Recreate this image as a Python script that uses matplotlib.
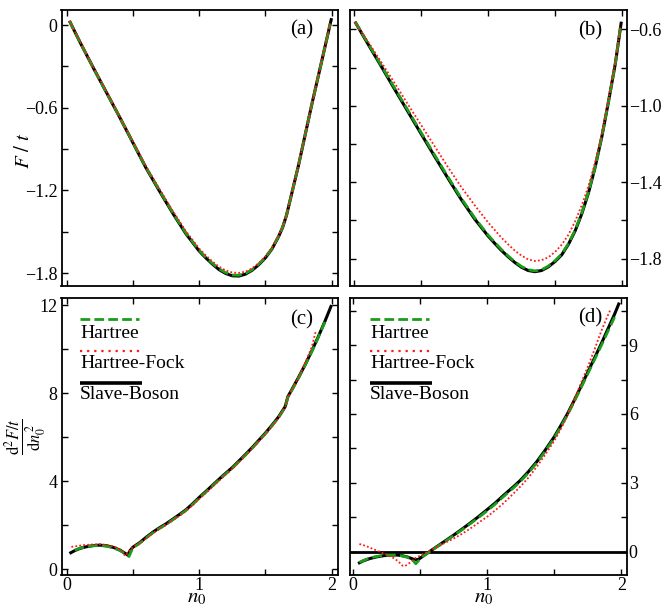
import matplotlib
matplotlib.use("Agg")
import matplotlib.pyplot as plt

plt.rcParams['font.family'] = ['Liberation Serif', 'DejaVu Serif']
plt.rcParams['mathtext.fontset'] = 'stix'

# panel (a): F/t
a_sb_n = [0.02, 0.1, 0.2, 0.3, 0.4, 0.5, 0.6, 0.7, 0.8, 0.9, 1.0, 1.05, 1.1, 1.15, 1.2, 1.25, 1.3, 1.35, 1.4, 1.45, 1.5, 1.55, 1.6, 1.63, 1.66, 1.7, 1.75, 1.8, 1.85, 1.9, 1.95, 2.0]
a_sb_F = [0.03, -0.125, -0.31, -0.49, -0.67, -0.855, -1.04, -1.205, -1.365, -1.515, -1.64, -1.69, -1.735, -1.775, -1.803, -1.82, -1.822, -1.808, -1.78, -1.74, -1.69, -1.625, -1.535, -1.47, -1.38, -1.22, -1.02, -0.80, -0.58, -0.37, -0.16, 0.05]
a_h_n = [0.02, 0.1, 0.2, 0.3, 0.4, 0.5, 0.6, 0.7, 0.8, 0.9, 1.0, 1.05, 1.1, 1.15, 1.2, 1.25, 1.3, 1.35, 1.4, 1.45, 1.5, 1.55, 1.6, 1.63, 1.66, 1.7, 1.75, 1.8, 1.85, 1.9, 1.95, 1.99]
a_h_F = [0.03, -0.125, -0.31, -0.49, -0.67, -0.853, -1.037, -1.2, -1.36, -1.51, -1.635, -1.685, -1.73, -1.769, -1.797, -1.814, -1.816, -1.803, -1.776, -1.736, -1.687, -1.622, -1.533, -1.468, -1.378, -1.22, -1.02, -0.80, -0.58, -0.37, -0.16, 0.01]
a_hf_n = [0.02, 0.1, 0.2, 0.3, 0.4, 0.5, 0.6, 0.7, 0.8, 0.9, 1.0, 1.05, 1.1, 1.15, 1.2, 1.25, 1.3, 1.35, 1.4, 1.45, 1.5, 1.55, 1.6, 1.63, 1.66, 1.7, 1.75, 1.8, 1.85, 1.9, 1.95, 1.99]
a_hf_F = [0.03, -0.122, -0.305, -0.485, -0.664, -0.846, -1.028, -1.19, -1.348, -1.497, -1.622, -1.672, -1.716, -1.754, -1.781, -1.796, -1.799, -1.79, -1.766, -1.728, -1.68, -1.615, -1.528, -1.465, -1.376, -1.22, -1.02, -0.80, -0.58, -0.37, -0.16, 0.01]

# panel (b): F/t
b_sb_n = [0.007, 0.1, 0.2, 0.3, 0.4, 0.5, 0.6, 0.7, 0.8, 0.9, 1.0, 1.05, 1.1, 1.15, 1.2, 1.25, 1.3, 1.35, 1.4, 1.45, 1.5, 1.55, 1.6, 1.65, 1.7, 1.75, 1.8, 1.85, 1.9, 1.95, 1.995]
b_sb_F = [-0.56, -0.672, -0.79, -0.91, -1.028, -1.146, -1.263, -1.378, -1.49, -1.592, -1.681, -1.72, -1.757, -1.79, -1.82, -1.845, -1.862, -1.868, -1.862, -1.843, -1.815, -1.78, -1.725, -1.655, -1.565, -1.455, -1.32, -1.16, -0.975, -0.78, -0.56]
b_h_n = [0.007, 0.1, 0.2, 0.3, 0.4, 0.5, 0.6, 0.7, 0.8, 0.9, 1.0, 1.05, 1.1, 1.15, 1.2, 1.25, 1.3, 1.35, 1.4, 1.45, 1.5, 1.55, 1.6, 1.65, 1.7, 1.75, 1.8, 1.85, 1.9, 1.95, 1.99]
b_h_F = [-0.56, -0.668, -0.785, -0.904, -1.021, -1.139, -1.256, -1.371, -1.484, -1.586, -1.676, -1.715, -1.752, -1.786, -1.816, -1.841, -1.858, -1.864, -1.858, -1.839, -1.811, -1.776, -1.721, -1.651, -1.561, -1.452, -1.318, -1.158, -0.975, -0.78, -0.58]
b_hf_n = [0.007, 0.1, 0.2, 0.3, 0.4, 0.5, 0.6, 0.7, 0.8, 0.9, 1.0, 1.05, 1.1, 1.15, 1.2, 1.25, 1.3, 1.35, 1.4, 1.45, 1.5, 1.55, 1.6, 1.65, 1.7, 1.75, 1.8, 1.85, 1.9, 1.95, 1.99]
b_hf_F = [-0.56, -0.66, -0.768, -0.878, -0.99, -1.10, -1.21, -1.32, -1.425, -1.52, -1.61, -1.65, -1.69, -1.725, -1.758, -1.784, -1.804, -1.812, -1.808, -1.793, -1.765, -1.727, -1.675, -1.605, -1.52, -1.42, -1.295, -1.145, -0.965, -0.77, -0.58]

# panel (c): d2F/dn0^2
c_sb_n = [0.02, 0.06, 0.1, 0.15, 0.2, 0.25, 0.3, 0.35, 0.4, 0.44, 0.46, 0.48, 0.5, 0.55, 0.6, 0.65, 0.7, 0.75, 0.8, 0.85, 0.9, 0.95, 1.0, 1.05, 1.1, 1.15, 1.2, 1.25, 1.3, 1.35, 1.4, 1.45, 1.5, 1.55, 1.6, 1.65, 1.67, 1.7, 1.75, 1.8, 1.85, 1.9, 1.95, 2.0]
c_sb_v = [0.71, 0.84, 0.94, 1.02, 1.07, 1.09, 1.06, 0.99, 0.87, 0.72, 0.64, 0.86, 1.0, 1.2, 1.45, 1.68, 1.88, 2.06, 2.27, 2.48, 2.7, 2.97, 3.26, 3.53, 3.81, 4.09, 4.36, 4.62, 4.92, 5.22, 5.53, 5.86, 6.19, 6.55, 6.93, 7.4, 7.85, 8.17, 8.72, 9.3, 9.92, 10.58, 11.28, 12.02]
c_h_n = [0.06, 0.1, 0.15, 0.2, 0.25, 0.3, 0.35, 0.4, 0.44, 0.47, 0.49, 0.5, 0.55, 0.6, 0.65, 0.7, 0.75, 0.8, 0.85, 0.9, 0.95, 1.0, 1.05, 1.1, 1.15, 1.2, 1.25, 1.3, 1.35, 1.4, 1.45, 1.5, 1.55, 1.6, 1.65, 1.67, 1.7, 1.75, 1.8, 1.85, 1.9, 1.95]
c_h_v = [0.86, 0.95, 1.02, 1.06, 1.07, 1.04, 0.97, 0.85, 0.7, 0.57, 0.85, 0.97, 1.17, 1.42, 1.65, 1.85, 2.03, 2.24, 2.45, 2.67, 2.94, 3.23, 3.5, 3.78, 4.06, 4.33, 4.59, 4.89, 5.19, 5.5, 5.83, 6.16, 6.52, 6.9, 7.37, 7.83, 8.14, 8.69, 9.27, 9.89, 10.55, 11.25]
c_hf_n = [0.035, 0.08, 0.125, 0.2, 0.25, 0.3, 0.355, 0.39, 0.42, 0.44, 0.46, 0.48, 0.5, 0.55, 0.6, 0.65, 0.7, 0.75, 0.8, 0.85, 0.9, 0.95, 1.0, 1.05, 1.1, 1.15, 1.2, 1.25, 1.3, 1.35, 1.4, 1.45, 1.5, 1.55, 1.6, 1.65, 1.67, 1.7, 1.75, 1.8, 1.85, 1.88]
c_hf_v = [1.01, 1.05, 1.09, 1.12, 1.13, 1.1, 1.03, 0.93, 0.78, 0.6, 0.72, 0.9, 0.99, 1.17, 1.4, 1.63, 1.83, 2.01, 2.22, 2.42, 2.64, 2.9, 3.19, 3.46, 3.74, 4.02, 4.3, 4.57, 4.87, 5.17, 5.48, 5.81, 6.14, 6.5, 6.88, 7.35, 7.82, 8.15, 8.72, 9.36, 10.1, 10.8]

# panel (d): d2F/dn0^2
d_sb_n = [0.04, 0.08, 0.13, 0.18, 0.23, 0.28, 0.33, 0.37, 0.41, 0.46, 0.49, 0.53, 0.57, 0.62, 0.68, 0.75, 0.81, 0.87, 0.93, 1.0, 1.06, 1.12, 1.2, 1.25, 1.31, 1.37, 1.43, 1.5, 1.55, 1.6, 1.65, 1.7, 1.75, 1.8, 1.85, 1.9, 1.95, 1.985]
d_sb_v = [-0.51, -0.39, -0.29, -0.22, -0.17, -0.145, -0.14, -0.17, -0.23, -0.34, -0.33, -0.16, 0.0, 0.2, 0.44, 0.72, 0.97, 1.23, 1.5, 1.83, 2.12, 2.44, 2.85, 3.12, 3.5, 3.92, 4.4, 5.0, 5.5, 6.02, 6.6, 7.2, 7.82, 8.43, 9.05, 9.7, 10.35, 10.85]
d_h_n = [0.05, 0.1, 0.15, 0.2, 0.25, 0.3, 0.35, 0.4, 0.44, 0.47, 0.5, 0.53, 0.57, 0.62, 0.68, 0.75, 0.81, 0.87, 0.93, 1.0, 1.06, 1.12, 1.2, 1.25, 1.31, 1.37, 1.43, 1.5, 1.55, 1.6, 1.65, 1.7, 1.75, 1.8, 1.85, 1.9, 1.95]
d_h_v = [-0.46, -0.33, -0.24, -0.18, -0.15, -0.14, -0.16, -0.22, -0.32, -0.52, -0.33, -0.17, -0.01, 0.19, 0.42, 0.7, 0.94, 1.2, 1.46, 1.78, 2.07, 2.39, 2.8, 3.07, 3.45, 3.87, 4.35, 4.95, 5.45, 5.97, 6.55, 7.14, 7.75, 8.36, 8.97, 9.6, 10.22]
d_hf_n = [0.05, 0.1, 0.14, 0.19, 0.24, 0.28, 0.31, 0.34, 0.37, 0.39, 0.42, 0.46, 0.51, 0.56, 0.62, 0.68, 0.75, 0.81, 0.87, 0.93, 1.0, 1.06, 1.12, 1.18, 1.25, 1.31, 1.37, 1.43, 1.5, 1.55, 1.6, 1.65, 1.7, 1.75, 1.8, 1.85, 1.9, 1.92]
d_hf_v = [0.34, 0.25, 0.15, 0.03, -0.1, -0.2, -0.29, -0.42, -0.6, -0.62, -0.5, -0.3, -0.14, 0.0, 0.18, 0.37, 0.57, 0.77, 0.99, 1.24, 1.52, 1.8, 2.1, 2.44, 2.85, 3.24, 3.7, 4.2, 4.82, 5.35, 5.95, 6.62, 7.35, 8.05, 8.8, 9.6, 10.3, 10.55]

labels = ['Hartree', 'Hartree-Fock', 'Slave-Boson']
GREEN = '#1a9e1a'
RED = '#ff1a1a'

fig = plt.figure(figsize=(6.63, 6.08), dpi=100)
W, H = 663, 608


def box(l, r, t, b):
    return [l / W, (H - b) / H, (r - l) / W, (b - t) / H]


ax_a = fig.add_axes(box(61.5, 337.5, 10, 286))
ax_b = fig.add_axes(box(350, 626.7, 10, 286))
ax_c = fig.add_axes(box(61.5, 337.5, 298, 575))
ax_d = fig.add_axes(box(350, 626.7, 298, 575))


def draw(ax, sb, h, hf):
    ax.plot(sb[0], sb[1], color='black', lw=2.2, solid_capstyle='butt')
    ax.plot(h[0], h[1], color=GREEN, lw=2.0, dashes=(3.5, 1.5))
    ax.plot(hf[0], hf[1], color=RED, lw=1.3, dashes=(1, 1.2))


draw(ax_a, (a_sb_n, a_sb_F), (a_h_n, a_h_F), (a_hf_n, a_hf_F))
draw(ax_b, (b_sb_n, b_sb_F), (b_h_n, b_h_F), (b_hf_n, b_hf_F))
draw(ax_c, (c_sb_n, c_sb_v), (c_h_n, c_h_v), (c_hf_n, c_hf_v))
ax_d.axhline(0, color='black', lw=2.0)
draw(ax_d, (d_sb_n, d_sb_v), (d_h_n, d_h_v), (d_hf_n, d_hf_v))

ax_a.set_xlim(-0.04, 2.045)
ax_a.set_ylim(-1.894, 0.109)
ax_b.set_xlim(-0.03, 2.035)
ax_b.set_ylim(-1.943, -0.499)
ax_c.set_xlim(-0.04, 2.045)
ax_c.set_ylim(-0.27, 12.34)
ax_d.set_xlim(-0.02, 2.04)
ax_d.set_ylim(-1.01, 11.05)

for ax in (ax_a, ax_b, ax_c, ax_d):
    ax.set_xticks([0, 1, 2])
    ax.set_xticks([0.5, 1.5], minor=True)
    ax.tick_params(which='both', direction='in', top=True, right=True,
                   length=4.5, width=1.0, labelsize=13, pad=3)
    for s in ax.spines.values():
        s.set_linewidth(1.3)

ax_a.set_yticks([0, -0.6, -1.2, -1.8])
ax_a.set_yticks([-0.3, -0.9, -1.5], minor=True)
ax_a.set_yticklabels(['0', '\u22120.6', '\u22121.2', '\u22121.8'])
ax_b.set_yticks([-0.6, -1.0, -1.4, -1.8])
ax_b.set_yticks([-0.8, -1.2, -1.6], minor=True)
ax_b.set_yticklabels(['\u22120.6', '\u22121.0', '\u22121.4', '\u22121.8'])
ax_c.set_yticks([0, 4, 8, 12])
ax_c.set_yticks([2, 6, 10], minor=True)
ax_d.set_yticks([0, 3, 6, 9])
ax_d.set_yticks([1.5, 4.5, 7.5, 10.5], minor=True)

for ax in (ax_a, ax_b):
    ax.tick_params(labelbottom=False)
for ax in (ax_b, ax_d):
    ax.tick_params(axis='y', labelleft=False, labelright=True, pad=1.5)
for ax in (ax_c, ax_d):
    ax.tick_params(axis='x', pad=1.5)

ax_a.text(-0.135, 0.49, r'$F\ /\ t$', transform=ax_a.transAxes, rotation=90,
          ha='center', va='center', fontsize=15)
ax_c.text(-0.13, 0.5, r'$\frac{\mathrm{d}^2F/t}{\mathrm{d}n_0^{\,2}}$', transform=ax_c.transAxes,
          rotation=90, ha='center', va='center', fontsize=17)
for ax, xc in ((ax_c, 0.489), (ax_d, 0.482)):
    ax.text(xc, -0.1155, r'$n_0$', transform=ax.transAxes, ha='center', va='bottom', fontsize=15)

for ax, lab, yc in ((ax_a, '(a)', 0.928), (ax_b, '(b)', 0.924), (ax_c, '(c)', 0.92), (ax_d, '(d)', 0.928)):
    ax.text(0.912, yc, lab, transform=ax.transAxes, ha='right', va='center', fontsize=15)

# legend: line above each label
for ax, x0, x1 in ((ax_c, 0.067, 0.29), (ax_d, 0.072, 0.295)):
    ys = [0.925, 0.809, 0.694]
    ax.plot([x0, x1 - 0.008], [ys[0]] * 2, transform=ax.transAxes, color=GREEN, lw=2.0, dashes=(3.5, 1.5))
    ax.plot([x0, x1], [ys[1]] * 2, transform=ax.transAxes, color=RED, lw=1.6, dashes=(1, 2.2))
    ax.plot([x0, x1], [ys[2]] * 2, transform=ax.transAxes, color='black', lw=2.6, solid_capstyle='butt')
    for lab, yt in zip(labels, [0.904, 0.795, 0.683]):
        ax.text(x0, yt, lab, transform=ax.transAxes, ha='left', va='top', fontsize=14)

fig.savefig('out.png', dpi=100)
